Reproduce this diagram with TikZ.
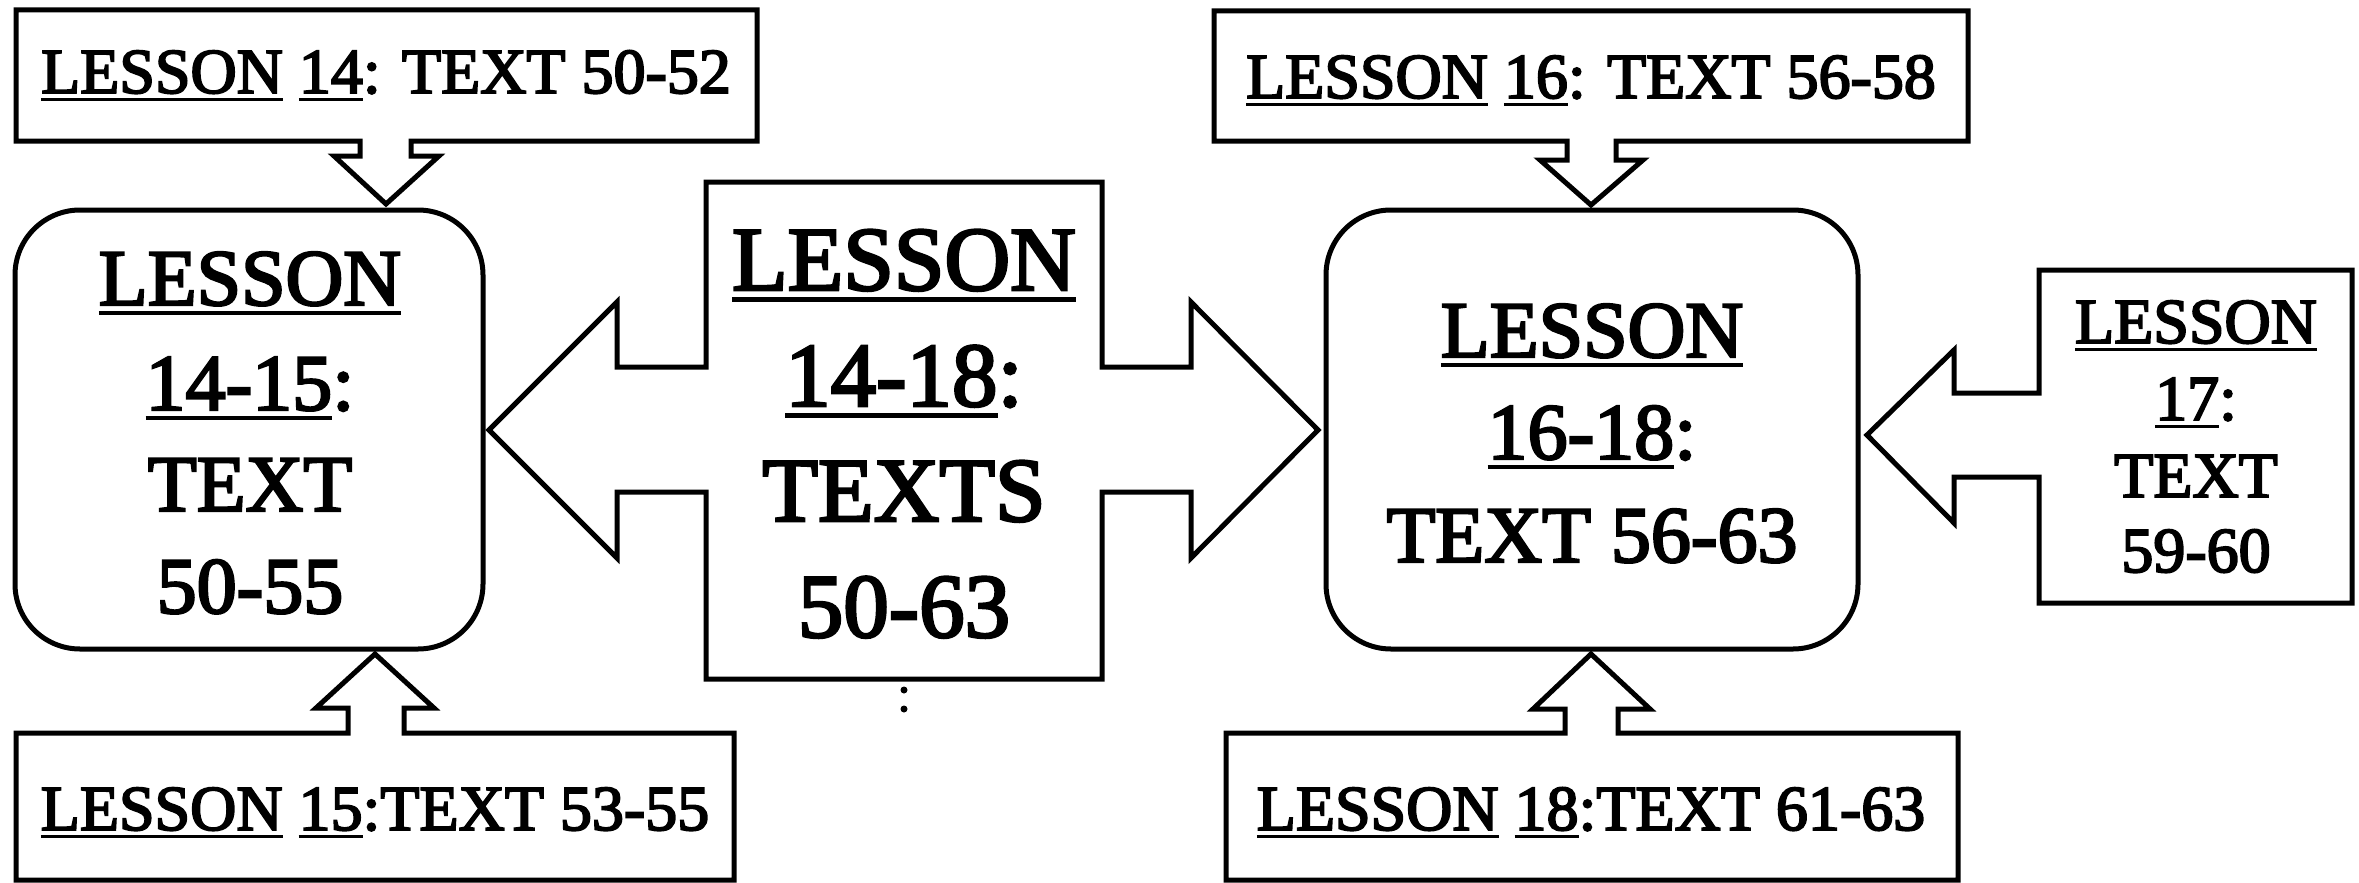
\documentclass[tikz,border=0pt]{standalone}
\usepackage{fontspec}
\setmainfont{Liberation Serif}[FakeBold=3,UprightFeatures={FakeBold=3}]
\newcommand\myul[1]{\setbox0=\hbox{#1}\rlap{\rule[-0.13em]{\wd0}{0.05em}}\box0\relax}
\tikzset{
  outl/.style={draw=black, line width=5pt, line join=miter, fill=white},
  txt/.style={anchor=base, inner sep=0pt, text=black},
  fsmall/.style={font=\fontsize{64}{70}\selectfont},
  fmid/.style={font=\fontsize{80}{88}\selectfont},
  fbig/.style={font=\fontsize{91}{100}\selectfont},
}
\begin{document}
\begin{tikzpicture}[x=1pt, y=-1pt]
\useasboundingbox (0,0) rectangle (2359,883);
\fill[white] (0,0) rectangle (2359,883);

% top-left box with down arrow
\draw[outl] (360,141) -- (16,141) -- (16,10) -- (757,10) -- (757,141) -- (411,141)
  -- (411,156) -- (439,156) -- (386,204) -- (334,156) -- (360,156) -- cycle;
% left rounded box
\draw[outl, rounded corners=65pt] (15,210) rectangle (483,649);
% bottom-left box with up arrow
\draw[outl] (348,733) -- (16,733) -- (16,880) -- (734,880) -- (734,733) -- (404,733)
  -- (404,708) -- (434,708) -- (375,654) -- (316,708) -- (348,708) -- cycle;
% center box with double arrow
\draw[outl] (706,182) -- (1102,182) -- (1102,367) -- (1191,367) -- (1191,302)
  -- (1318,430) -- (1191,558) -- (1191,492) -- (1102,492) -- (1102,679)
  -- (706,679) -- (706,492) -- (617,492) -- (617,558) -- (489,430)
  -- (617,302) -- (617,367) -- (706,367) -- cycle;
\fill (904,690) circle (3.5);
\fill (904,709) circle (3.5);
% right rounded box
\draw[outl, rounded corners=65pt] (1326,210) rectangle (1858,649);
% top-right box with down arrow
\draw[outl] (1567,141) -- (1214,141) -- (1214,11) -- (1968,11) -- (1968,141) -- (1616,141)
  -- (1616,160) -- (1643,160) -- (1591,205) -- (1540,160) -- (1567,160) -- cycle;
% bottom-right box with up arrow
\draw[outl] (1565,733) -- (1226,733) -- (1226,880) -- (1958,880) -- (1958,733) -- (1618,733)
  -- (1618,709) -- (1650,709) -- (1591,654) -- (1533,709) -- (1565,709) -- cycle;
% far-right box with left arrow
\draw[outl] (2039,393) -- (2039,270) -- (2352,270) -- (2352,603) -- (2039,603) -- (2039,477)
  -- (1954,477) -- (1954,523) -- (1867,435) -- (1954,350) -- (1954,393) -- cycle;

% texts
\node[txt, fsmall] (tl) at (386,93) {\myul{LESSON} \myul{14}: TEXT 50-52};
\node[txt, fsmall] (bl) at (375,830) {\myul{LESSON} \myul{15}:TEXT 53-55};
\node[txt, fsmall] (tr) at (1591,98) {\myul{LESSON} \myul{16}: TEXT 56-58};
\node[txt, fsmall] (br) at (1591,830) {\myul{LESSON} \myul{18}:TEXT 61-63};

\node[txt, fmid] (lb1) at (250,305) {\myul{LESSON}};
\node[txt, fmid] (lb2) at (250,410) {\myul{14-15}:};
\node[txt, fmid] (lb3) at (250,511) {TEXT};
\node[txt, fmid] (lb4) at (250,613) {50-55};

\node[txt, fbig] (c1) at (904,290) {\myul{LESSON}};
\node[txt, fbig] (c2) at (904,406) {\myul{14-18}:};
\node[txt, fbig] (c3) at (904,521) {TEXTS};
\node[txt, fbig] (c4) at (904,637) {50-63};

\node[txt, fmid] (rb1) at (1592,357) {\myul{LESSON}};
\node[txt, fmid] (rb2) at (1592,459) {\myul{16-18}:};
\node[txt, fmid] (rb3) at (1592,562) {TEXT 56-63};

\node[txt, fsmall] (r1) at (2196,343) {\myul{LESSON}};
\node[txt, fsmall] (r2) at (2196,420) {\myul{17}:};
\node[txt, fsmall] (r3) at (2196,497) {TEXT};
\node[txt, fsmall] (r4) at (2196,572) {59-60};
\end{tikzpicture}
\end{document}
